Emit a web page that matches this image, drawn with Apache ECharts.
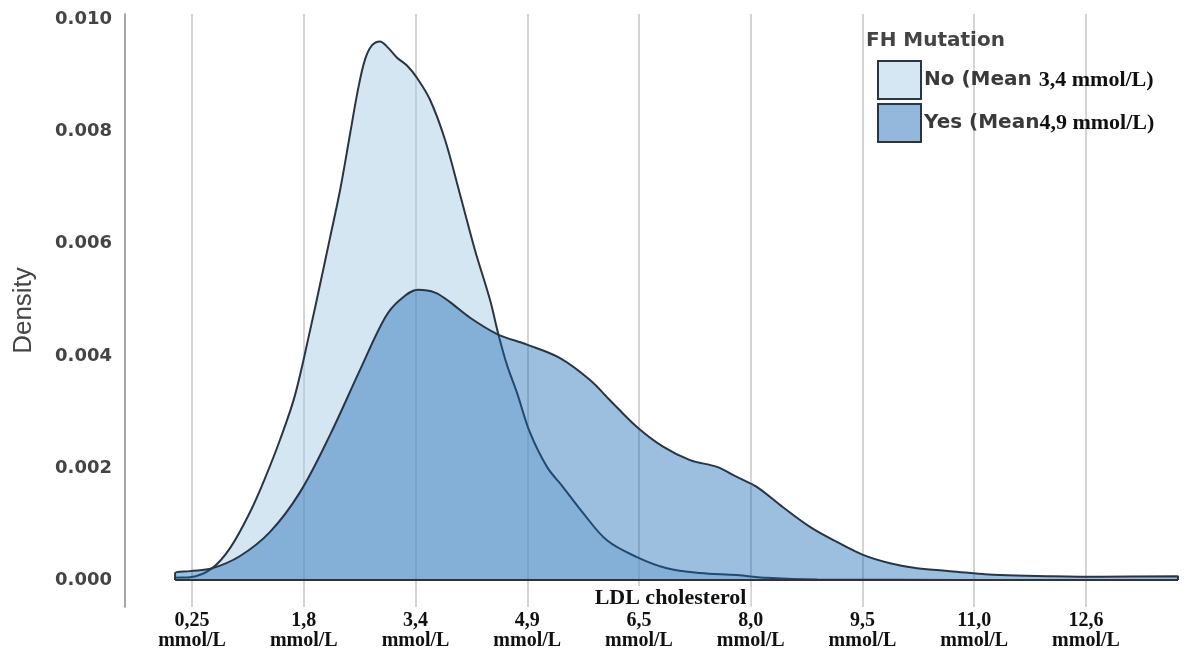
<!DOCTYPE html>
<html>
<head>
<meta charset="utf-8">
<script src="https://cdn.jsdelivr.net/npm/echarts@6/dist/echarts.min.js"></script>
<style>
html, body { margin: 0; padding: 0; background: #fff; }
#densityChart { width: 1192px; height: 649px; }
</style>
</head>
<body>
<div id="densityChart"></div>
<script>
// LDL cholesterol (mg/dL) and density
var ldlNo = [0.9, 0.9, 8.9, 20.7, 30.4, 41.1, 49.2, 57.2, 65.3, 73.4, 78.7, 84.1, 89.5, 94.8, 99.1, 102.9, 106.6, 110.9, 115.2, 120.1, 125.4, 130.8, 137.8, 145.8, 153.9, 161.9, 170.0, 174.3, 179.1, 184.5, 191.5, 200.6, 209.2, 219.9, 232.8, 248.9, 265.0, 282.7, 302.6, 318.7, 345.6, 390.0, 450.0, 539.4, 539.4];
var densNo = [0, 0.00004, 0.00005, 0.00021, 0.00057, 0.00121, 0.00182, 0.0025, 0.0033, 0.00446, 0.00527, 0.00611, 0.00696, 0.00795, 0.00875, 0.00929, 0.00954, 0.00961, 0.0095, 0.00932, 0.00918, 0.00896, 0.00857, 0.00786, 0.00688, 0.00589, 0.005, 0.00441, 0.00384, 0.00334, 0.00263, 0.00202, 0.00166, 0.0012, 0.00071, 0.00041, 0.00021, 0.000125, 0.00009, 0.00004, 0.00001, 0.000005, 0.000003, 0.000003, 0];

var ldlYes = [0.9, 0.9, 8.9, 20.7, 35.8, 51.9, 68.0, 84.1, 100.2, 113.6, 121.7, 131.3, 140.5, 148.5, 159.3, 173.8, 189.9, 207.6, 223.7, 234.4, 248.9, 262.9, 277.4, 291.9, 302.6, 313.4, 327.3, 341.8, 356.3, 370.3, 384.8, 399.3, 417.0, 443.8, 470.7, 497.5, 539.4, 539.4];
var densYes = [0, 0.000125, 0.00016, 0.00021, 0.00043, 0.00086, 0.00157, 0.00259, 0.00375, 0.00468, 0.005, 0.00518, 0.00513, 0.00496, 0.00468, 0.00439, 0.0042, 0.00396, 0.00357, 0.00321, 0.00273, 0.00238, 0.00214, 0.00202, 0.00184, 0.00166, 0.0013, 0.00095, 0.00068, 0.00045, 0.0003, 0.00021, 0.00016, 0.00009, 0.00007, 0.00006, 0.00007, 0];

// ticks sit at mg/dL values, labelled in mmol/L
var tickMg = [10, 70, 130, 190, 250, 310, 370, 430, 490];
var tickLabels = ['0,25', '1,8', '3,4', '4,9', '6,5', '8,0', '9,5', '11,0', '12,6'];
var densityTicks = [0, 0.002, 0.004, 0.006, 0.008, 0.010];

var groupNames = ['No', 'Yes'];
var groupMeans = ['3,4 mmol/L)', '4,9 mmol/L)'];

function pairs(xs, ys) {
	var out = [];
	for (var i = 0; i < xs.length; i++) {
		out.push([xs[i], ys[i]]);
	}
	return out;
}

var myChart = echarts.init(document.getElementById('densityChart'));

var lineColor = '#2b3541';
var sansBold = 'DejaVu Sans';
var serif = 'Liberation Serif';

var option = {
	animation: false,
	backgroundColor: '#fff',
	title: {
		text: 'FH Mutation',
		left: 866,
		top: 31,
		padding: 0,
		textStyle: { fontFamily: sansBold, fontWeight: 'bold', fontSize: 20, color: '#444' }
	},
	legend: {
		orient: 'vertical',
		left: 877,
		top: 60,
		padding: 0,
		icon: 'rect',
		itemWidth: 43,
		itemHeight: 38,
		itemGap: 3,
		selectedMode: false,
		data: [
			{ name: 'No', itemStyle: { color: '#d5e7f3', borderColor: lineColor, borderWidth: 2 } },
			{ name: 'Yes', itemStyle: { color: '#93b8dc', borderColor: lineColor, borderWidth: 2 } }
		],
		formatter: function (name) {
			var i = groupNames.indexOf(name);
			var head = name === 'No' ? 'No (Mean ' : 'Yes (Mean';
			return '{a|' + head + '}{b|' + groupMeans[i] + '}';
		},
		textStyle: {
			padding: [0, 0, 0, -2],
			rich: {
				a: { fontFamily: sansBold, fontWeight: 'bold', fontSize: 20, color: '#3a3a3a' },
				b: { fontFamily: serif, fontWeight: 'bold', fontSize: 22, color: '#111' }
			}
		}
	},
	grid: { left: 125, right: 12, top: 14, bottom: 42, outerBoundsMode: 'none', containLabel: false },
	xAxis: {
		type: 'value',
		min: -26,
		max: 540.5,
		name: 'LDL cholesterol',
		nameLocation: 'middle',
		nameGap: -21,
		nameMoveOverlap: false,
		nameTextStyle: {
			fontFamily: serif, fontWeight: 'bold', fontSize: 22, color: '#111',
			backgroundColor: '#fff', padding: [1, 4, 0, 40]
		},
		axisLine: { show: false, onZero: false },
		axisTick: { show: false, customValues: tickMg },
		axisLabel: {
			customValues: tickMg,
			margin: 4,
			fontFamily: serif,
			fontWeight: 'bold',
			fontSize: 20,
			lineHeight: 20,
			color: '#111',
			formatter: function (v) {
				var i = tickMg.indexOf(v);
				return i < 0 ? '' : tickLabels[i] + '\nmmol/L';
			}
		},
		splitLine: { show: true, lineStyle: { color: '#d4d4d4', width: 2 } }
	},
	yAxis: {
		type: 'value',
		min: -0.00048,
		max: 0.0101,
		name: 'Density',
		nameLocation: 'middle',
		nameGap: 88,
		nameMoveOverlap: false,
		nameTextStyle: { fontFamily: 'Liberation Sans', fontSize: 26, color: '#444' },
		axisLine: { show: true, onZero: false, lineStyle: { color: '#8a8a8a', width: 1.5 } },
		axisTick: { show: false, customValues: densityTicks },
		axisLabel: {
			customValues: densityTicks,
			margin: 13,
			fontFamily: sansBold,
			fontWeight: 'bold',
			fontSize: 18,
			color: '#444',
			formatter: function (v) { return v.toFixed(3); }
		},
		splitLine: { show: false }
	},
	series: [
		{
			name: 'No',
			type: 'line',
			data: pairs(ldlNo, densNo),
			smooth: 0.35,
			showSymbol: false,
			lineStyle: { color: lineColor, width: 2 },
			areaStyle: { color: 'rgba(169,205,229,0.5)', opacity: 1 },
			z: 2
		},
		{
			name: 'Yes',
			type: 'line',
			data: pairs(ldlYes, densYes),
			smooth: 0.35,
			showSymbol: false,
			lineStyle: { color: lineColor, width: 2 },
			areaStyle: { color: 'rgba(21,102,179,0.42)', opacity: 1 },
			z: 3
		},
		{
			name: 'baseline',
			type: 'line',
			data: [[ldlYes[0], 0], [ldlYes[ldlYes.length - 1], 0]],
			showSymbol: false,
			silent: true,
			lineStyle: { color: lineColor, width: 2 },
			z: 4
		}
	]
};

myChart.setOption(option);
</script>
</body>
</html>
